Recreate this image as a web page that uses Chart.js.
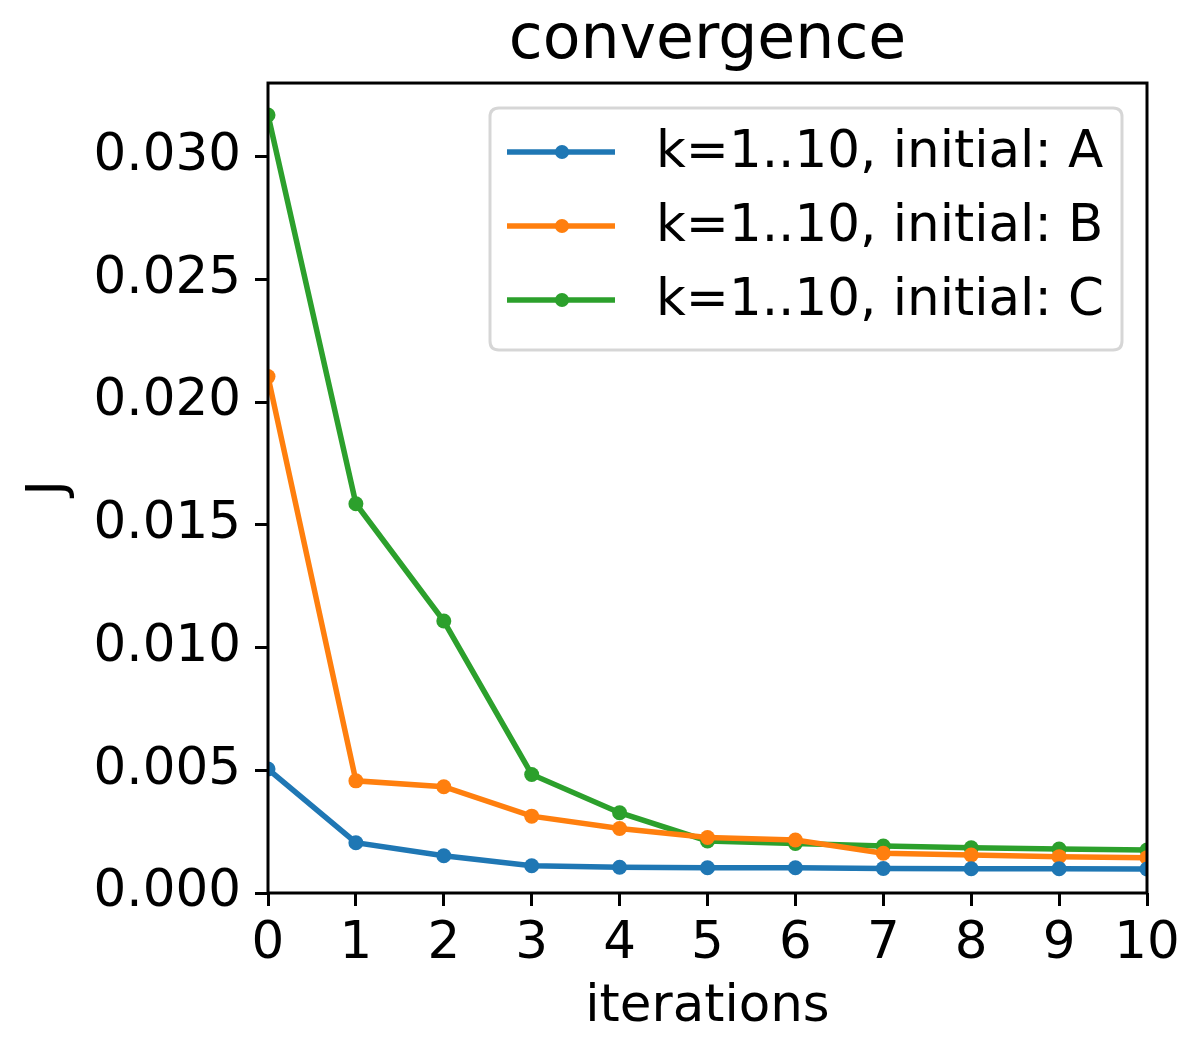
<!DOCTYPE html>
<html>
<head>
<meta charset="utf-8">
<title>convergence</title>
<script src="https://cdn.jsdelivr.net/npm/chart.js@4/dist/chart.umd.min.js"></script>
<style>
  html, body { margin: 0; padding: 0; background: #ffffff; }
  #wrap { width: 1188px; height: 1037px; }
</style>
</head>
<body>
<div id="wrap"><canvas id="c" width="1188" height="1037"></canvas></div>
<script>
// Iteration index and objective J for each initialisation
const iterations = [0, 1, 2, 3, 4, 5, 6, 7, 8, 9, 10];
const seriesA = [0.00505, 0.00205, 0.00152, 0.00111, 0.00105, 0.00103, 0.00103, 0.00100, 0.00099, 0.00099, 0.00098];
const seriesB = [0.02104, 0.00457, 0.00433, 0.00313, 0.00263, 0.00226, 0.00216, 0.00162, 0.00155, 0.00148, 0.00144];
const seriesC = [0.03170, 0.01586, 0.01108, 0.00483, 0.00327, 0.00212, 0.00202, 0.00191, 0.00184, 0.00179, 0.00175];
const seriesNames = ['k=1..10, initial: A', 'k=1..10, initial: B', 'k=1..10, initial: C'];
const xTicks = [0, 1, 2, 3, 4, 5, 6, 7, 8, 9, 10];
const yTicks = [0.000, 0.005, 0.010, 0.015, 0.020, 0.025, 0.030];

const COLORS = ['#1f77b4', '#ff7f0e', '#2ca02c'];
const FONT = 'DejaVu Sans';
const FS = 51.5;

function toPoints(ys) {
  return iterations.map((x, i) => ({ x: x, y: ys[i] }));
}

function lineDataset(label, ys, color) {
  return {
    label: label,
    data: toPoints(ys),
    borderColor: color,
    backgroundColor: color,
    borderWidth: 5.5,
    pointRadius: 7.5,
    pointHoverRadius: 7.5,
    pointBorderWidth: 0,
    pointBackgroundColor: color,
    tension: 0,
    clip: 0
  };
}

// Frame around the plotting area (all four sides)
const framePlugin = {
  id: 'frame',
  afterDatasetsDraw(chart) {
    const a = chart.chartArea;
    const ctx = chart.ctx;
    ctx.save();
    ctx.strokeStyle = '#000000';
    ctx.lineWidth = 3;
    ctx.strokeRect(a.left, a.top, a.right - a.left, a.bottom - a.top);
    ctx.restore();
  }
};

// Line-and-marker legend box in the upper right of the plotting area
const lineLegendPlugin = {
  id: 'lineLegend',
  afterDraw(chart) {
    const a = chart.chartArea;
    const ctx = chart.ctx;
    const boxRight = a.right - 25;
    const boxLeft = boxRight - 632;
    const boxTop = a.top + 25;
    const boxH = 242;
    const r = 9;
    ctx.save();
    ctx.beginPath();
    ctx.moveTo(boxLeft + r, boxTop);
    ctx.lineTo(boxRight - r, boxTop);
    ctx.quadraticCurveTo(boxRight, boxTop, boxRight, boxTop + r);
    ctx.lineTo(boxRight, boxTop + boxH - r);
    ctx.quadraticCurveTo(boxRight, boxTop + boxH, boxRight - r, boxTop + boxH);
    ctx.lineTo(boxLeft + r, boxTop + boxH);
    ctx.quadraticCurveTo(boxLeft, boxTop + boxH, boxLeft, boxTop + boxH - r);
    ctx.lineTo(boxLeft, boxTop + r);
    ctx.quadraticCurveTo(boxLeft, boxTop, boxLeft + r, boxTop);
    ctx.closePath();
    ctx.fillStyle = 'rgba(255,255,255,0.8)';
    ctx.fill();
    ctx.strokeStyle = 'rgba(204,204,204,0.8)';
    ctx.lineWidth = 3;
    ctx.stroke();

    chart.data.datasets.forEach((ds, i) => {
      const y = boxTop + 44 + i * 74;
      const x0 = boxLeft + 17;
      const x1 = boxLeft + 125;
      ctx.strokeStyle = ds.borderColor;
      ctx.lineWidth = 5.5;
      ctx.beginPath();
      ctx.moveTo(x0, y);
      ctx.lineTo(x1, y);
      ctx.stroke();
      ctx.fillStyle = ds.borderColor;
      ctx.beginPath();
      ctx.arc((x0 + x1) / 2 + 1, y, 7, 0, Math.PI * 2);
      ctx.fill();
      ctx.fillStyle = '#000000';
      ctx.font = FS + 'px "' + FONT + '"';
      ctx.textBaseline = 'middle';
      ctx.textAlign = 'left';
      ctx.fillText(ds.label, boxLeft + 166, y + 2);
    });
    ctx.restore();
  }
};

Chart.defaults.font.family = FONT;
Chart.defaults.color = '#000000';

new Chart(document.getElementById('c'), {
  type: 'line',
  data: {
    datasets: [
      lineDataset(seriesNames[0], seriesA, COLORS[0]),
      lineDataset(seriesNames[1], seriesB, COLORS[1]),
      lineDataset(seriesNames[2], seriesC, COLORS[2])
    ]
  },
  plugins: [framePlugin, lineLegendPlugin],
  options: {
    responsive: false,
    devicePixelRatio: 1,
    animation: false,
    layout: { padding: { left: 0, right: 41, top: 0, bottom: 0 } },
    plugins: {
      legend: { display: false },
      tooltip: { enabled: false },
      title: {
        display: true,
        text: 'convergence',
        fullSize: false,
        color: '#000000',
        font: { family: FONT, size: 61.7, weight: 'normal', lineHeight: 1.2 },
        padding: { top: 5, bottom: 4 }
      }
    },
    scales: {
      x: {
        type: 'linear',
        min: 0,
        max: 10,
        afterBuildTicks(scale) { scale.ticks = xTicks.map(v => ({ value: v })); },
        afterFit(scale) { scale.height = 144; },
        ticks: {
          font: { family: FONT, size: FS },
          color: '#000000',
          padding: 8,
          maxRotation: 0,
          autoSkip: false,
          callback: v => String(v)
        },
        grid: {
          display: true,
          drawOnChartArea: false,
          drawTicks: true,
          tickLength: 13,
          tickWidth: 3,
          tickColor: '#000000'
        },
        border: { display: false },
        title: {
          display: true,
          text: 'iterations',
          color: '#000000',
          font: { family: FONT, size: FS, lineHeight: 1.08 },
          padding: { top: 0, bottom: 2 }
        }
      },
      y: {
        type: 'linear',
        min: 0,
        max: 0.033,
        afterBuildTicks(scale) { scale.ticks = yTicks.map(v => ({ value: v })); },
        afterFit(scale) { scale.width = 268; },
        ticks: {
          font: { family: FONT, size: FS },
          color: '#000000',
          padding: 14,
          autoSkip: false,
          callback: v => Number(v).toFixed(3)
        },
        grid: {
          display: true,
          drawOnChartArea: false,
          drawTicks: true,
          tickLength: 13,
          tickWidth: 3,
          tickColor: '#000000'
        },
        border: { display: false },
        title: {
          display: true,
          text: 'J',
          color: '#000000',
          font: { family: FONT, size: FS, lineHeight: 1.2 },
          padding: { top: 18.5, bottom: 0 }
        }
      }
    }
  }
});
</script>
</body>
</html>
